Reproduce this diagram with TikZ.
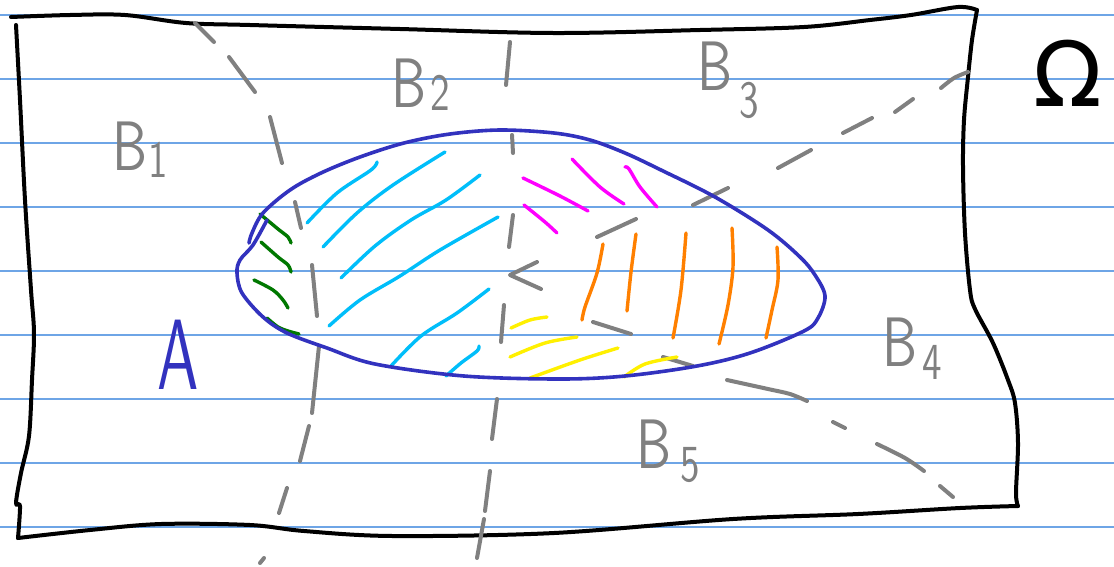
\documentclass[tikz,border=0pt]{standalone}
\usepackage{fontspec}
\newfontfamily\symfont{DejaVu Sans}
\newfontfamily\hand{lmsans10-regular.otf}[FakeStretch=0.75]
\newfontfamily\handA{lmsans10-regular.otf}[FakeStretch=0.62]
\definecolor{rulecol}{RGB}{110,165,230}
\definecolor{pgray}{RGB}{128,128,128}
\definecolor{pblue}{RGB}{50,50,190}
\definecolor{pgreen}{RGB}{0,120,0}
\definecolor{pcyan}{RGB}{0,190,250}
\definecolor{pmag}{RGB}{255,0,255}
\definecolor{porange}{RGB}{255,128,0}
\definecolor{pyellow}{RGB}{255,240,0}
\newcommand\lblsub[3]{\hspace{#1}\raisebox{#2}{\fontsize{52}{52}\selectfont #3}}
\begin{document}
\begin{tikzpicture}[x=1pt,y=-1pt,
 ruleline/.style={draw=rulecol,line width=1.3pt},
 pen/.style={line width=3.4pt,line cap=round,line join=round},
 frame/.style={pen,draw=black,line width=4pt},
 dashpen/.style={pen,draw=pgray,line width=4pt},
 outline/.style={pen,draw=pblue,line width=3.6pt},
 hatch/.style={pen,line width=3.4pt},
 lbl/.style={text=pgray,font=\hand\fontsize{70}{70}\selectfont,inner sep=0pt,anchor=base west},
 sm/.style={smooth,tension=0.55}]
\useasboundingbox (0,0) rectangle (1114,566);
\fill[white] (0,0) rectangle (1114,566);
% ruled paper
\foreach \yy in {15,79,143,207,271,335,399,463,527}
  \draw[ruleline] (0,\yy) -- (1114,\yy);
% frame Omega
\draw[frame] plot[sm] coordinates {(11,17) (70,15) (125,15) (186,23) (250,25) (400,29) (554,33) (700,30) (804,27) (870,20) (911,15) (958,7) (977,10)};
\draw[frame] plot[sm] coordinates {(977,10) (972,40) (968,77) (964,120) (963,167) (965,233) (970,290) (975,309) (993,343) (1008,380) (1015,403) (1018,443) (1016,493) (1018,506)};
\draw[frame] plot[sm] coordinates {(1018,506) (960,508) (858,514) (733,519) (554,533) (393,536) (304,531) (250,525) (161,524) (90,530) (18,538)};
\draw[frame] plot[sm] coordinates {(18,538) (20,506) (16,503) (21,473) (29,436) (32,380) (34,333) (31,290) (25,200) (20,100) (16,25)};
\node[font=\symfont\fontsize{90}{90}\selectfont,inner sep=0pt] (omega) at (1068,73) {Ω};
% gray dashed partition lines
\draw[dashpen] (195,23) -- (214,42);
\draw[dashpen] (229,57) -- (255,92);
\draw[dashpen] (270,117) -- (282,163);
\draw[dashpen] (295,202) -- (301,228);
\draw[dashpen] (312,265) -- (317,316);
\draw[dashpen] (319,346) -- (312,413);
\draw[dashpen] (309,426) -- (300,461);
\draw[dashpen] (287,488) -- (279,513);
\draw[dashpen] (264,558) -- (260,563);
\draw[dashpen] (510,42) -- (506,85);
\draw[dashpen] (512,135) -- (513,153);
\draw[dashpen] (513,215) -- (509,247);
\draw[dashpen] (504,305) -- (501,342);
\draw[dashpen] (497,399) -- (492,439);
\draw[dashpen] (490,471) -- (485,511);
\draw[dashpen] (484,519) -- (477,558);
\draw[dashpen] plot[sm] coordinates {(968,72) (954,78) (941,88)};
\draw[dashpen] (913,99) -- (895,112);
\draw[dashpen] (872,118) -- (843,133);
\draw[dashpen] (811,150) -- (778,168);
\draw[dashpen] (728,188) -- (693,205);
\draw[dashpen] (636,219) -- (597,237);
\draw[dashpen] (537,262) -- (510,275) -- (541,289);
\draw[dashpen] (593,322) -- (631,334);
\draw[dashpen] (663,357) -- (693,366);
\draw[dashpen] plot[sm] coordinates {(727,380) (768,389) (790,394) (807,401)};
\draw[dashpen] (833,422) -- (845,428);
\draw[dashpen] plot[sm] coordinates {(877,444) (905,458) (924,471)};
\draw[dashpen] (940,486) -- (953,497);
% hatching
\begin{scope}[hatch,draw=pgreen]
\draw plot[sm] coordinates {(260,214) (278,229) (288,237) (291,243)};
\draw plot[sm] coordinates {(261,242) (278,257) (288,265) (291,272)};
\draw plot[sm] coordinates {(254,280) (273,290) (283,300) (288,308)};
\draw plot[sm] coordinates {(267,318) (278,327) (288,331) (299,334)};
\end{scope}
\begin{scope}[hatch,draw=pcyan]
\draw plot[sm] coordinates {(307,223) (337,193) (371,170) (377,162)};
\draw plot[sm] coordinates {(323,247) (357,213) (393,185) (445,152)};
\draw plot[sm] coordinates {(341,278) (375,246) (411,220) (446,200) (480,175)};
\draw plot[sm] coordinates {(329,326) (360,300) (400,276) (440,250) (498,217)};
\draw plot[sm] coordinates {(391,366) (421,336) (457,313) (489,289)};
\draw plot[sm] coordinates {(446,376) (461,363) (477,351) (479,346)};
\end{scope}
\begin{scope}[hatch,draw=pmag]
\draw plot[sm] coordinates {(523,178) (560,196) (588,211)};
\draw plot[sm] coordinates {(524,205) (545,222) (557,233)};
\draw plot[sm] coordinates {(572,159) (600,187) (624,204)};
\draw plot[sm] coordinates {(625,167) (629,169) (640,187) (657,207)};
\end{scope}
\begin{scope}[hatch,draw=porange]
\draw plot[sm] coordinates {(603,244) (597,273) (585,307) (582,320)};
\draw plot[sm] coordinates {(636,234) (631,272) (627,311)};
\draw plot[sm] coordinates {(686,233) (681,290) (673,338)};
\draw plot[sm] coordinates {(732,228) (733,267) (728,305) (719,344)};
\draw plot[sm] coordinates {(777,247) (778,280) (772,310) (766,338)};
\end{scope}
\begin{scope}[hatch,draw=pyellow]
\draw plot[sm] coordinates {(511,328) (530,320) (547,317)};
\draw plot[sm] coordinates {(510,357) (545,343) (577,337)};
\draw plot[sm] coordinates {(530,378) (580,360) (618,348)};
\draw plot[sm] coordinates {(624,377) (645,364) (677,357)};
\end{scope}
% set A
\draw[outline] plot[sm] coordinates {(249,243) (252,233) (263,213) (290,190) (321,173) (360,157) (404,143) (450,134) (500,130) (554,133) (590,140) (625,153) (661,170) (715,197) (768,230) (800,257) (815,275) (825,296) (818,318) (804,331) (750,353) (697,366) (625,376) (560,379) (464,376) (375,364) (327,348) (287,333) (263,317) (242,293) (237,273) (240,260) (253,245) (267,220)};
% labels
\node[lbl] (b1) at (112,170) {B\lblsub{1pt}{-7pt}{1}};
\node[lbl] (b2) at (391,107) {B\lblsub{4pt}{-3pt}{2}};
\node[lbl] (b3) at (697,90) {B\lblsub{7pt}{-27pt}{3}};
\node[lbl] (b4) at (882,366) {B\lblsub{5pt}{-13pt}{4}};
\node[lbl] (b5) at (636,468) {B\lblsub{9pt}{-13pt}{5}};
\node[text=pblue,font=\handA\fontsize{100}{100}\selectfont,inner sep=0pt,anchor=base west] (a) at (157,389) {A};
\end{tikzpicture}
\end{document}
